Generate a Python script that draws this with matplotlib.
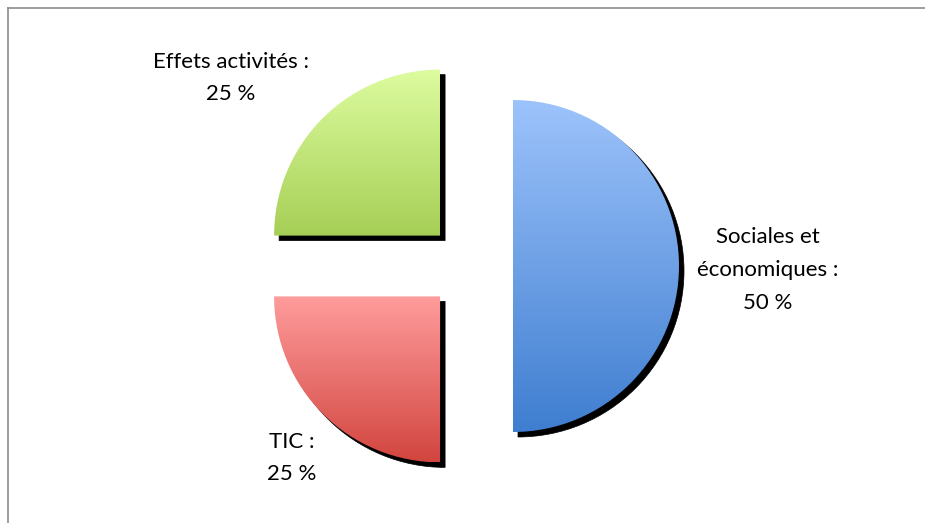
import numpy as np
import matplotlib
matplotlib.use('Agg')
import matplotlib.pyplot as plt
from matplotlib.patches import PathPatch
from matplotlib.lines import Line2D
import matplotlib.transforms as mtransforms
from matplotlib.colors import LinearSegmentedColormap

categories = ['Sociales et\néconomiques :', 'Effets activités :', 'TIC :']
values = [50, 25, 25]
pct_labels = ['50 %', '25 %', '25 %']

explode_frac = [0.256, 0.259, 0.259]
top_colors = ['#9DC3FB', '#DDFC9F', '#FF9C9C']
bottom_colors = ['#3F7ED0', '#A6CF56', '#D2453F']
label_pos = [(768, 253), (231, 445), (292, 65)]

plt.rcParams['font.family'] = ['Lato', 'DejaVu Sans']

W, H = 925, 523
fig = plt.figure(figsize=(W / 100, H / 100), dpi=100)
ax = fig.add_axes([0, 0, 1, 1])
center = (470.5, 257)
radius = 166
explode = [f * radius for f in explode_frac]
wedges, _ = ax.pie(values, explode=explode, startangle=-90, counterclock=True,
                   radius=radius, center=center,
                   wedgeprops=dict(facecolor='none', edgecolor='none'))

shadow_tr = mtransforms.offset_copy(ax.transData, fig=fig, x=5, y=-5, units='dots')
grad = np.linspace(0, 1, 256).reshape(-1, 1)
for w, tc, bc in zip(wedges, top_colors, bottom_colors):
    path = w.get_path()
    sh = PathPatch(path, transform=shadow_tr, facecolor='black', edgecolor='black',
                   lw=0.5, zorder=1)
    ax.add_patch(sh)
    ext = path.get_extents()
    cmap = LinearSegmentedColormap.from_list('g', [tc, bc])
    im = ax.imshow(grad, extent=[ext.x0, ext.x1, ext.y0, ext.y1], cmap=cmap,
                   aspect='auto', origin='upper', zorder=2, interpolation='bilinear')
    im.set_clip_path(w)

for cat, pct, (x, y) in zip(categories, pct_labels, label_pos):
    ax.text(x, y, cat + '\n' + pct, ha='center', va='center', fontsize=16,
            linespacing=1.8, color='black', zorder=5)

ax.set_xlim(0, W)
ax.set_ylim(0, H)
ax.set_aspect('auto')
ax.axis('off')

fig.add_artist(Line2D([7.5 / W, 7.5 / W], [0, 1 - 7.5 / H], transform=fig.transFigure,
                      color='#8C8C8C', lw=1.2))
fig.add_artist(Line2D([7.5 / W, 1], [1 - 7.5 / H, 1 - 7.5 / H], transform=fig.transFigure,
                      color='#8C8C8C', lw=1.2))

fig.savefig('out.png', dpi=100, facecolor='white')
